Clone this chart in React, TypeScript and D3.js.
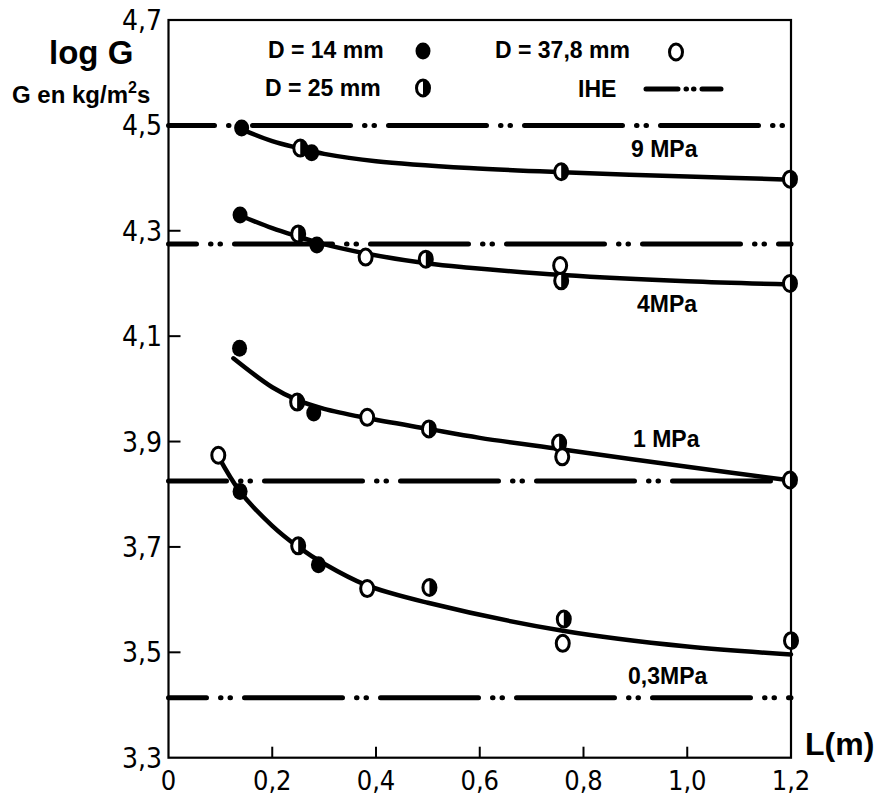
import React from "react";
import * as d3 from "d3";

// ---------- data ----------
const X_TICKS = [0, 0.2, 0.4, 0.6, 0.8, 1.0, 1.2];
const X_TICK_LABELS = ["0", "0,2", "0,4", "0,6", "0,8", "1,0", "1,2"];
const Y_TICKS = [3.3, 3.5, 3.7, 3.9, 4.1, 4.3, 4.5, 4.7];
const Y_TICK_LABELS = ["3,3", "3,5", "3,7", "3,9", "4,1", "4,3", "4,5", "4,7"];

// IHE reference levels (log G)
const IHE_LEVELS = [4.5, 4.275, 3.825, 3.414];

// fitted curves [L, logG]
const CURVE_9MPA: [number, number][] = [
  [0.14, 4.493], [0.2, 4.47], [0.25, 4.457], [0.3, 4.446], [0.4, 4.432],
  [0.58, 4.419], [0.76, 4.411], [1.0, 4.403], [1.2, 4.397],
];
const CURVE_4MPA: [number, number][] = [
  [0.14, 4.328], [0.2, 4.305], [0.25, 4.289], [0.29, 4.277], [0.38, 4.257],
  [0.5, 4.238], [0.58, 4.23], [0.76, 4.216], [1.0, 4.204], [1.2, 4.198],
];
const CURVE_1MPA: [number, number][] = [
  [0.125, 4.058], [0.2, 4.003], [0.25, 3.978], [0.3, 3.962], [0.38, 3.945],
  [0.5, 3.924], [0.6, 3.907], [0.76, 3.885], [1.0, 3.852], [1.2, 3.826],
];
const CURVE_03MPA: [number, number][] = [
  [0.096, 3.872], [0.138, 3.805], [0.2, 3.74], [0.25, 3.7], [0.3, 3.668],
  [0.38, 3.628], [0.5, 3.594], [0.76, 3.541], [1.0, 3.511], [1.2, 3.496],
];

// measured points
const D14_POINTS: [number, number][] = [
  [0.141, 4.495], [0.276, 4.448],
  [0.138, 4.33], [0.286, 4.273],
  [0.137, 4.077], [0.28, 3.954],
  [0.138, 3.805], [0.289, 3.666],
];
const D25_POINTS: [number, number][] = [
  [0.254, 4.457], [0.757, 4.412], [1.198, 4.398],
  [0.25, 4.294], [0.496, 4.246], [0.757, 4.205], [1.198, 4.2],
  [0.248, 3.975], [0.502, 3.924], [0.753, 3.897], [1.198, 3.827],
  [0.25, 3.702], [0.503, 3.623], [0.762, 3.563], [1.2, 3.522],
];
const D378_POINTS: [number, number][] = [
  [0.38, 4.25], [0.755, 4.234],
  [0.383, 3.946], [0.759, 3.871],
  [0.096, 3.874], [0.383, 3.621], [0.76, 3.517],
];

const CURVE_LABELS = ["9 MPa", "4MPa", "1 MPa", "0,3MPa"];
const LEGEND_LABELS = ["D = 14 mm", "D = 37,8 mm", "D = 25 mm", "IHE"];

// ---------- layout ----------
const W = 877;
const H = 798;
const X0 = 168.5, X1 = 791;
const Y0 = 757.7, Y1 = 20;

const BOLD = "'Liberation Sans', Arial, Helvetica, sans-serif";
const NARROW = "'Liberation Sans Narrow', 'DejaVu Sans Condensed', sans-serif";

const RX = 6.5, RY = 8;

function Marker({ cx, cy, kind }: { cx: number; cy: number; kind: string }) {
  if (kind === "filled") {
    return <ellipse cx={cx} cy={cy} rx={RX + 1} ry={RY + 0.5} fill="#000" />;
  }
  const ring = <ellipse cx={cx} cy={cy} rx={RX} ry={RY} fill="#fff" stroke="#000" strokeWidth={3} />;
  if (kind === "open") return ring;
  const half = `M${cx},${cy - RY} A${RX},${RY} 0 0 1 ${cx},${cy + RY} Z`;
  return (
    <g>
      {ring}
      <path d={half} fill="#000" />
    </g>
  );
}

export default function App() {
  const x = d3.scaleLinear().domain([0, 1.2]).range([X0, X1]);
  const y = d3.scaleLinear().domain([3.3, 4.7]).range([Y0, Y1]);
  const line = d3
    .line<[number, number]>()
    .x((d) => x(d[0]))
    .y((d) => y(d[1]))
    .curve(d3.curveCatmullRom.alpha(0.5));

  const curves = [CURVE_9MPA, CURVE_4MPA, CURVE_1MPA, CURVE_03MPA];
  const labelPos: [number, number][] = [
    [631, 157],
    [637, 312],
    [633, 447],
    [628, 684],
  ];
  const ihePhase = [52, 70, 40, 60];

  return (
    <div style={{ position: "fixed", left: 0, top: 0 }}>
      <svg width={W} height={H} style={{ display: "block", background: "#fff" }}>
        <rect x={0} y={0} width={W} height={H} fill="#fff" />

        {/* frame */}
        <rect x={X0} y={Y1} width={X1 - X0} height={Y0 - Y1} fill="none" stroke="#000" strokeWidth={2.2} />

        {/* y ticks */}
        {Y_TICKS.map((t, i) => (
          <g key={"yt" + i}>
            {i > 0 && i < Y_TICKS.length - 1 && (
              <line x1={X0} x2={X0 + 12} y1={y(t)} y2={y(t)} stroke="#000" strokeWidth={2} />
            )}
            <text
              x={162}
              y={y(t)}
              dy="0.36em"
              textAnchor="end"
              fontFamily={NARROW}
              fontSize={28}
              fill="#000"
            >
              {Y_TICK_LABELS[i]}
            </text>
          </g>
        ))}

        {/* x ticks */}
        {X_TICKS.map((t, i) => (
          <g key={"xt" + i}>
            {i > 0 && i < X_TICKS.length - 1 && (
              <line x1={x(t)} x2={x(t)} y1={Y0} y2={Y0 - 11} stroke="#000" strokeWidth={2} />
            )}
            <text
              x={x(t)}
              y={790}
              textAnchor="middle"
              fontFamily={NARROW}
              fontSize={27}
              fill="#000"
            >
              {X_TICK_LABELS[i]}
            </text>
          </g>
        ))}

        {/* IHE lines */}
        {IHE_LEVELS.map((v, i) => (
          <line
            key={"ihe" + i}
            x1={X0}
            x2={X1}
            y1={y(v)}
            y2={y(v)}
            stroke="#000"
            strokeWidth={5}
            strokeLinecap="round"
            strokeDasharray="98 14 0.5 9 0.5 14"
            strokeDashoffset={ihePhase[i]}
          />
        ))}

        {/* curves */}
        {curves.map((c, i) => (
          <path key={"c" + i} d={line(c) || ""} fill="none" stroke="#000" strokeWidth={4.5} strokeLinecap="round" />
        ))}

        {/* markers */}
        {D14_POINTS.map((p, i) => (
          <Marker key={"a" + i} cx={x(p[0])} cy={y(p[1])} kind="filled" />
        ))}
        {D25_POINTS.map((p, i) => (
          <Marker key={"b" + i} cx={x(p[0])} cy={y(p[1])} kind="half" />
        ))}
        {D378_POINTS.map((p, i) => (
          <Marker key={"o" + i} cx={x(p[0])} cy={y(p[1])} kind="open" />
        ))}

        {/* curve labels */}
        {CURVE_LABELS.map((l, i) => (
          <text key={"l" + i} x={labelPos[i][0]} y={labelPos[i][1]} fontFamily={BOLD} fontWeight="bold" fontSize={23} fill="#000">
            {l}
          </text>
        ))}

        {/* axis titles */}
        <text x={49} y={64} fontFamily={BOLD} fontWeight="bold" fontSize={33} fill="#000">log G</text>
        <text x={12} y={103} fontFamily={BOLD} fontWeight="bold" fontSize={24} fill="#000">
          G en kg/m<tspan fontSize={16} dy={-10}>2</tspan><tspan dy={10}>s</tspan>
        </text>
        <text x={805} y={755} fontFamily={BOLD} fontWeight="bold" fontSize={32} fill="#000">L(m)</text>

        {/* legend */}
        <text x={268} y={58} fontFamily={BOLD} fontWeight="bold" fontSize={23} fill="#000">{LEGEND_LABELS[0]}</text>
        <Marker cx={423} cy={51} kind="filled" />
        <text x={495} y={58} fontFamily={BOLD} fontWeight="bold" fontSize={23} fill="#000">{LEGEND_LABELS[1]}</text>
        <Marker cx={676} cy={52} kind="open" />
        <text x={265} y={96} fontFamily={BOLD} fontWeight="bold" fontSize={23} fill="#000">{LEGEND_LABELS[2]}</text>
        <Marker cx={423} cy={88} kind="half" />
        <text x={578} y={97} fontFamily={BOLD} fontWeight="bold" fontSize={23} fill="#000">{LEGEND_LABELS[3]}</text>
        <line x1={646} x2={721} y1={89} y2={89} stroke="#000" strokeWidth={5} strokeLinecap="round" strokeDasharray="32 8 0.5 7 0.5 8 40" />
      </svg>
    </div>
  );
}
